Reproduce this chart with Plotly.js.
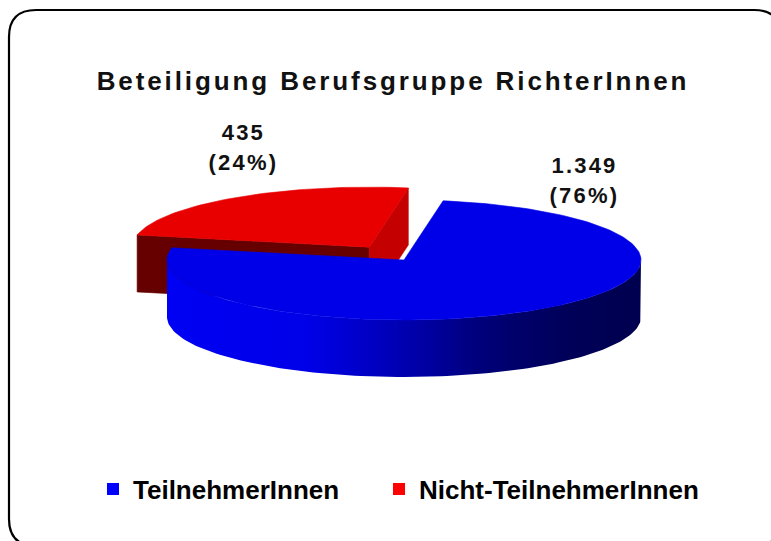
<!DOCTYPE html>
<html>
<head>
<meta charset="utf-8">
<script src="https://cdn.plot.ly/plotly-3.0.1.min.js"></script>
<style>
  html, body { margin: 0; padding: 0; background: #ffffff; }
  #chart { width: 771px; height: 541px; }
  #chart .gtitle { letter-spacing: 2.9px; }
  #chart .annotation-text { letter-spacing: 2.2px; }
</style>
</head>
<body>
<div id="chart"></div>
<script>
// ---- data ----
const chartTitle = 'Beteiligung Berufsgruppe RichterInnen';
const categories = ['TeilnehmerInnen', 'Nicht-TeilnehmerInnen'];
const values = [1349, 435];
const sliceColors = [[0, 0, 232], [232, 0, 0]];
const legendColors = ['#0000FF', '#FF0000'];
const pulls = [0, 0.26];

// ---- geometry / styling of the 3D pie (layout, not data) ----
const CX = 404, CY = 260, RX = 237, RY = 60, DEPTH = 57, ROTATION = 80.5;
const labelCenters = [[584, 165, 195], [243, 132, 162]]; // x, line1 y, line2 y
const legendX = [93, 379];
const W = 771, H = 541;

const shadeStops = [[0, 1.05], [0.3, 1.0], [0.5, 0.76], [0.68, 0.5], [0.85, 0.38], [1, 0.34]];

function rgb(c, f) {
  const k = v => Math.max(0, Math.min(255, Math.round(v * f)));
  return 'rgb(' + k(c[0]) + ',' + k(c[1]) + ',' + k(c[2]) + ')';
}
const rad = d => d * Math.PI / 180;
const ex = (th, ox) => CX + ox + RX * Math.cos(rad(th));
const ey = (th, oy) => CY + oy - RY * Math.sin(rad(th));

const total = values.reduce((s, v) => s + v, 0);
const slices = [];
let start = ROTATION;
values.forEach((v, i) => {
  const sweep = 360 * v / total;
  const th0 = start, th1 = start - sweep; // clockwise
  const mid = (th0 + th1) / 2;
  const ox = pulls[i] * RX * Math.cos(rad(mid));
  const oy = -pulls[i] * RY * Math.sin(rad(mid));
  slices.push({ i, th0, th1, mid, ox, oy });
  start = th1;
});
// painter's order: back slices first
const order = slices.slice().sort((a, b) => Math.sin(rad(b.mid)) - Math.sin(rad(a.mid)));

const traces = [];
function poly(xs, ys, color, gradient) {
  const t = {
    type: 'scatter', mode: 'lines', x: xs, y: ys, fill: 'toself',
    fillcolor: color, line: { color: color, width: gradient ? 0 : 0.6 },
    hoverinfo: 'skip', showlegend: false
  };
  if (gradient) t.fillgradient = gradient;
  traces.push(t);
}

order.forEach(s => {
  const base = sliceColors[s.i];
  const ax = CX + s.ox, ay = CY + s.oy;
  // radial faces
  [[s.th0, s.th0 + 90, 0.44], [s.th1, s.th1 - 90, 0.845]].forEach(([th, nrm, f]) => {
    if (Math.sin(rad(nrm)) < -0.01 && values[s.i] / total < 0.5) {
      const px = ex(th, s.ox), py = ey(th, s.oy);
      poly([ax, px, px, ax, ax], [ay, py, py + DEPTH, ay + DEPTH, ay], rgb(base, f));
    }
  });
  // outer wall (front part only), one polygon with horizontal gradient
  for (let k = -1; k <= 1; k++) {
    const lo = Math.max(s.th1, 180 + 360 * k), hi = Math.min(s.th0, 360 + 360 * k);
    if (hi <= lo) continue;
    const n = Math.max(2, Math.ceil((hi - lo) / 1.5));
    const xs = [], ys = [];
    for (let j = 0; j <= n; j++) {
      const th = lo + (hi - lo) * j / n;
      xs.push(ex(th, s.ox)); ys.push(ey(th, s.oy));
    }
    for (let j = n; j >= 0; j--) {
      const th = lo + (hi - lo) * j / n;
      xs.push(ex(th, s.ox)); ys.push(ey(th, s.oy) + DEPTH);
    }
    xs.push(xs[0]); ys.push(ys[0]);
    const x0 = Math.min(...xs), x1 = Math.max(...xs);
    const left = CX + s.ox - RX;
    const cs = [];
    for (let q = 0; q <= 20; q++) {
      const xx = x0 + (x1 - x0) * q / 20;
      const u = (xx - left) / (2 * RX);
      let f = shadeStops[shadeStops.length - 1][1];
      for (let m = 1; m < shadeStops.length; m++) {
        if (u <= shadeStops[m][0]) {
          const tt = (u - shadeStops[m - 1][0]) / (shadeStops[m][0] - shadeStops[m - 1][0]);
          f = shadeStops[m - 1][1] + tt * (shadeStops[m][1] - shadeStops[m - 1][1]);
          break;
        }
      }
      cs.push([q / 20, rgb(base, f)]);
    }
    poly(xs, ys, rgb(base, 0.7), { type: 'horizontal', colorscale: cs, start: x0, stop: x1 });
  }
  // top face
  const xs = [ax], ys = [ay];
  const n = Math.ceil((s.th0 - s.th1) / 1.5);
  for (let j = 0; j <= n; j++) {
    const th = s.th0 - (s.th0 - s.th1) * j / n;
    xs.push(ex(th, s.ox)); ys.push(ey(th, s.oy));
  }
  xs.push(ax); ys.push(ay);
  poly(xs, ys, rgb(base, 1));
});

// legend entries (one legend per entry for exact placement)
const legendFont = { family: 'Liberation Sans, Arial, sans-serif', size: 26, color: '#000000', weight: 'bold' };
const legendLayouts = {};
categories.forEach((c, i) => {
  const key = i === 0 ? 'legend' : 'legend' + (i + 1);
  traces.push({
    type: 'scatter', mode: 'markers', x: [null], y: [null], name: c,
    marker: { symbol: 'square', size: 12, color: legendColors[i] },
    hoverinfo: 'skip', showlegend: true, legend: key
  });
  legendLayouts[key] = {
    orientation: 'h', x: legendX[i] / W, xanchor: 'left', y: 1 - 489 / H, yanchor: 'middle',
    font: legendFont, bgcolor: 'rgba(0,0,0,0)', borderwidth: 0
  };
});

// data labels
const fmt = v => v.toString().replace(/\B(?=(\d{3})+(?!\d))/g, '.');
const annotations = [];
values.forEach((v, i) => {
  const pct = Math.round(100 * v / total);
  const [lx, y1, y2] = labelCenters[i];
  const font = { family: 'Liberation Sans, Arial, sans-serif', size: 22, color: '#111111', weight: 'bold' };
  annotations.push({ x: lx, y: y1, xref: 'x', yref: 'y', text: fmt(v), showarrow: false,
    xanchor: 'center', yanchor: 'middle', font: font });
  annotations.push({ x: lx, y: y2, xref: 'x', yref: 'y', text: '(' + pct + '%)', showarrow: false,
    xanchor: 'center', yanchor: 'middle', font: font });
});

const layout = Object.assign({
  width: W, height: H,
  margin: { l: 0, r: 0, t: 0, b: 0 },
  paper_bgcolor: '#ffffff', plot_bgcolor: '#ffffff',
  title: {
    text: chartTitle, x: 393 / W, xanchor: 'center', xref: 'paper',
    y: 1 - 81 / H, yanchor: 'middle', yref: 'container',
    font: { family: 'Liberation Sans, Arial, sans-serif', size: 26, color: '#111111', weight: 'bold' }
  },
  xaxis: { range: [0, W], visible: false, fixedrange: true },
  yaxis: { range: [H, 0], visible: false, fixedrange: true },
  showlegend: true,
  annotations: annotations,
  shapes: [{
    type: 'path', xref: 'x', yref: 'y',
    path: 'M 36,10 L 754,10 Q 781,10 781,37 L 781,519 Q 781,546 754,546 L 36,546 Q 9,546 9,519 L 9,37 Q 9,10 36,10 Z',
    line: { color: '#000000', width: 2.2 }, fillcolor: 'rgba(0,0,0,0)'
  }]
}, legendLayouts);

Plotly.newPlot('chart', traces, layout, { staticPlot: true, displayModeBar: false });
</script>
</body>
</html>
